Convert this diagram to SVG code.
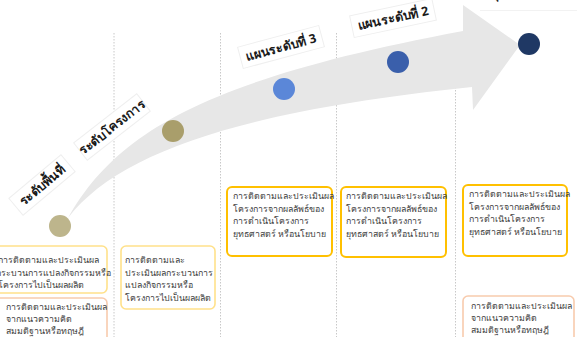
<svg xmlns="http://www.w3.org/2000/svg" width="577" height="337" viewBox="0 0 577 337">
<style>
.vl{stroke:#c8c8c8;stroke-width:1;stroke-dasharray:1.5 1.5;fill:none}
.lbl{font-family:"Noto Sans","Liberation Sans",sans-serif;font-size:12.5px;fill:#1a1a1a;font-weight:bold}
.lb{fill:#fff;stroke:#efefef;stroke-width:1}
.t{font-family:"Noto Sans","Liberation Sans",sans-serif;font-size:8.8px;fill:#404040}
.by{fill:#fff;stroke:#ffe18a;stroke-width:1.6}
.bY{fill:#fff;stroke:#ffc000;stroke-width:2}
.bo{fill:#fff;stroke:#f8cbad;stroke-width:1.6}
</style>
<rect width="577" height="337" fill="#fff"/>
<g id="guides">
<line class="vl" x1="114" y1="33" x2="114" y2="337"/>
<line class="vl" x1="220.5" y1="33" x2="220.5" y2="337"/>
<line class="vl" x1="336.5" y1="33" x2="336.5" y2="337"/>
<line class="vl" x1="455.5" y1="33" x2="455.5" y2="337"/>
</g>
<g id="connectors">
<path d="M68,218 C115,135 200,80 463,31 L463,5 L520,45 L473,110 L472,87 C250,110 120,150 68,218 Z" fill="#e7e7e7"/>
</g>
<g id="label-area">
<g transform="translate(42,185) rotate(-40)">
<rect class="lb" x="-34" y="-11" width="68" height="22"/>
<text class="lbl" x="0" y="4.5" text-anchor="middle">ระดับพื้นที่</text>
</g>
</g>
<g id="label-project">
<g transform="translate(112,127) rotate(-38)">
<rect class="lb" x="-40" y="-11" width="80" height="22"/>
<text class="lbl" x="0" y="4.5" text-anchor="middle">ระดับโครงการ</text>
</g>
</g>
<g id="label-plan3">
<g transform="translate(281,47) rotate(-15)">
<rect class="lb" x="-42" y="-11" width="84" height="22"/>
<text class="lbl" x="0" y="4.5" text-anchor="middle">แผนระดับที่ 3</text>
</g>
</g>
<g id="label-plan2">
<g transform="translate(393,18) rotate(-12)">
<rect class="lb" x="-42" y="-11" width="84" height="22"/>
<text class="lbl" x="0" y="4.5" text-anchor="middle">แผนระดับที่ 2</text>
</g>
</g>
<g id="label-national">
<line x1="480" y1="10.5" x2="577" y2="10.5" stroke="#f2f2f2" stroke-width="1"/>
<text class="lbl" x="492" y="-2">ยุทธศาสตร์ชาติ</text>
</g>
<g id="dots">
<circle id="dot1" cx="60" cy="226" r="11" fill="#bdb58c"/>
<circle id="dot2" cx="173" cy="131" r="11" fill="#a99e6b"/>
<circle id="dot3" cx="284" cy="89" r="11" fill="#5b87d8"/>
<circle id="dot4" cx="398" cy="62" r="11" fill="#3a5fab"/>
<circle id="dot5" cx="529" cy="44" r="11" fill="#1f3864"/>
</g>
<g id="box-a">
<rect class="by" x="-8" y="246" width="115" height="47" rx="5"/>
<text class="t" x="-2" y="263">การติดตามและประเมินผล</text>
<text class="t" x="-4" y="276">กระบวนการแปลงกิจกรรมหรือ</text>
<text class="t" x="-2" y="288">โครงการไปเป็นผลผลิต</text>
</g>
<g id="box-b">
<rect class="bo" x="-8" y="298" width="115" height="50" rx="5"/>
<text class="t" x="6" y="310">การติดตามและประเมินผล</text>
<text class="t" x="6" y="322">จากแนวความคิด</text>
<text class="t" x="6" y="334">สมมติฐานหรือทฤษฎี</text>
</g>
<g id="box-c">
<rect class="by" x="121" y="246" width="94" height="63" rx="5"/>
<text class="t" x="125" y="263">การติดตามและ</text>
<text class="t" x="125" y="276">ประเมินผลกระบวนการ</text>
<text class="t" x="125" y="288">แปลงกิจกรรมหรือ</text>
<text class="t" x="125" y="301">โครงการไปเป็นผลผลิต</text>
</g>
<g id="box-d">
<rect class="bY" x="227" y="187" width="105" height="69" rx="5"/>
<text class="t" x="233" y="199">การติดตามและประเมินผล</text>
<text class="t" x="233" y="212">โครงการจากผลลัพธ์ของ</text>
<text class="t" x="233" y="224">การดำเนินโครงการ</text>
<text class="t" x="233" y="237">ยุทธศาสตร์  หรือนโยบาย</text>
</g>
<g id="box-e">
<rect class="bY" x="341" y="187" width="105" height="70" rx="5"/>
<text class="t" x="346" y="199">การติดตามและประเมินผล</text>
<text class="t" x="346" y="212">โครงการจากผลลัพธ์ของ</text>
<text class="t" x="346" y="224">การดำเนินโครงการ</text>
<text class="t" x="346" y="237">ยุทธศาสตร์  หรือนโยบาย</text>
</g>
<g id="box-f">
<rect class="bY" x="463" y="185" width="104" height="71" rx="5"/>
<text class="t" x="469" y="197">การติดตามและประเมินผล</text>
<text class="t" x="469" y="210">โครงการจากผลลัพธ์ของ</text>
<text class="t" x="469" y="222">การดำเนินโครงการ</text>
<text class="t" x="469" y="235">ยุทธศาสตร์  หรือนโยบาย</text>
</g>
<g id="box-g">
<rect class="bo" x="463" y="296" width="111" height="50" rx="5"/>
<text class="t" x="471" y="309">การติดตามและประเมินผล</text>
<text class="t" x="471" y="321">จากแนวความคิด</text>
<text class="t" x="471" y="333">สมมติฐานหรือทฤษฎี</text>
</g>
</svg>
